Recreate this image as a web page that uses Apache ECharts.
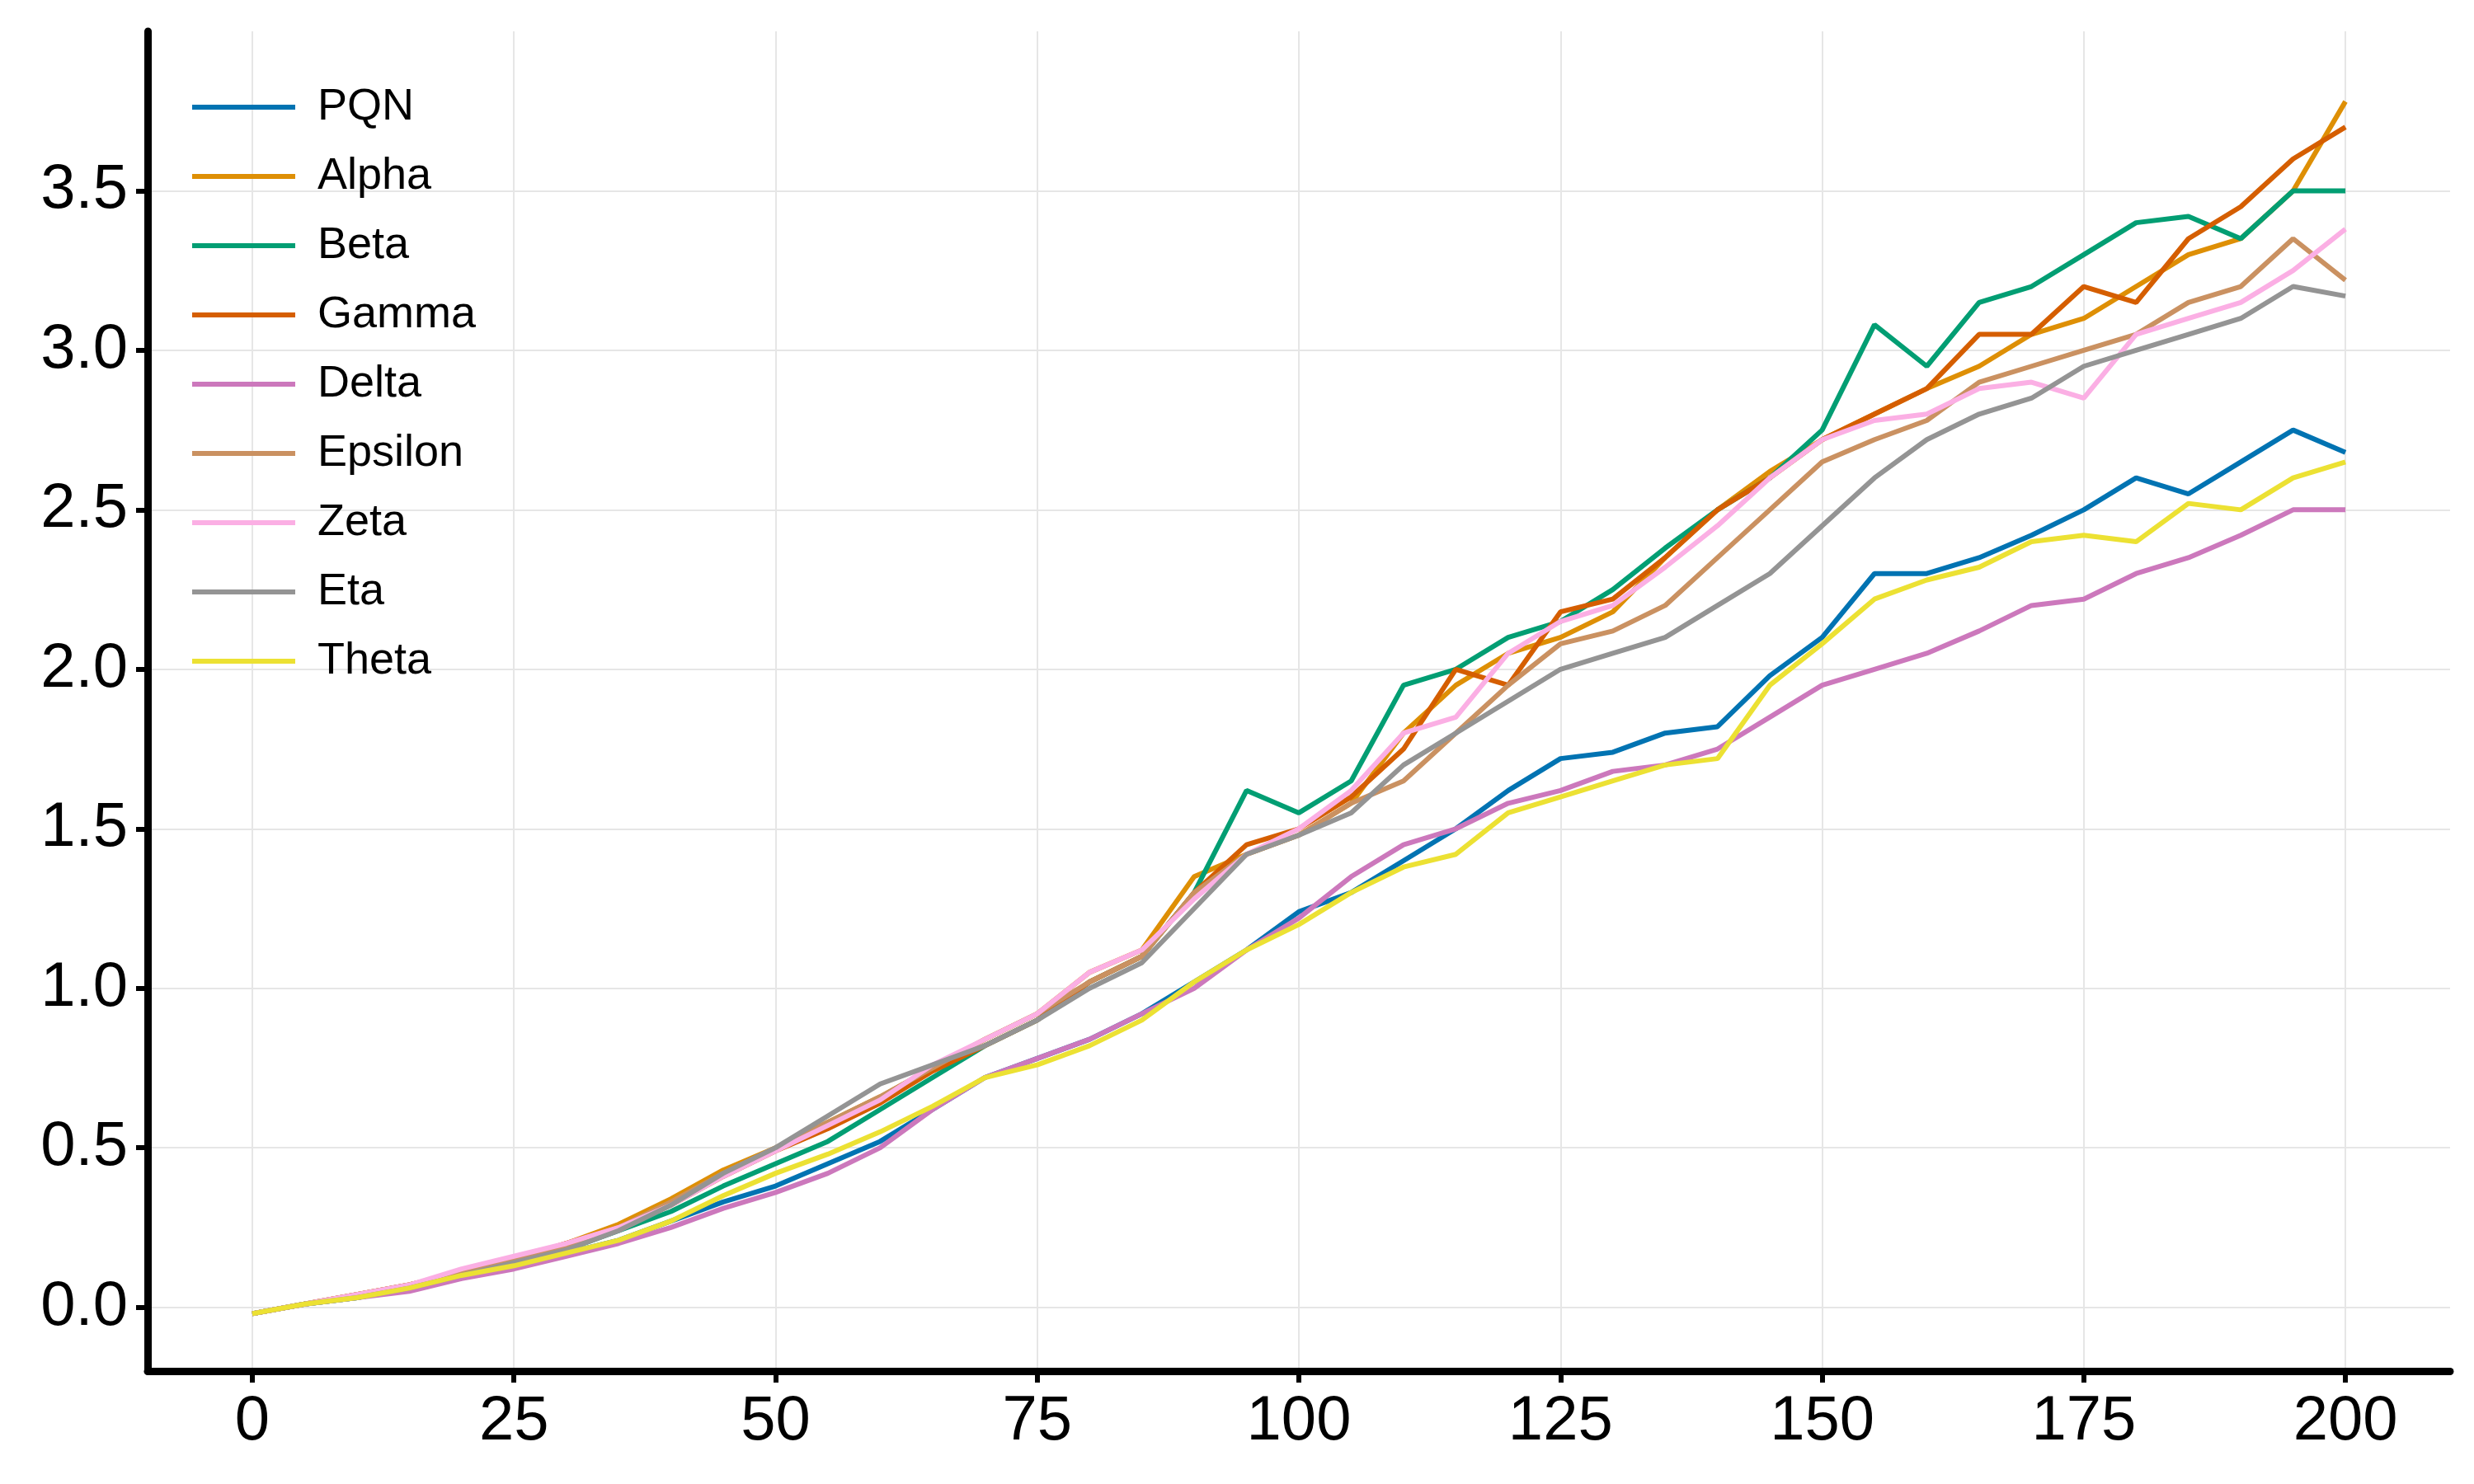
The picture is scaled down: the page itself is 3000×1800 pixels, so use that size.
<!DOCTYPE html><html><head><meta charset="utf-8">
<script src="https://cdn.jsdelivr.net/npm/echarts@6/dist/echarts.min.js"></script>
<style>html,body{margin:0;background:#fff}#c{width:3000px;height:1800px}</style></head><body><div id="c"></div>
<script>
const xs=[0,5,10,15,20,25,30,35,40,45,50,55,60,65,70,75,80,85,90,95,100,105,110,115,120,125,130,135,140,145,150,155,160,165,170,175,180,185,190,195,200];
const PQN  =[-0.02,0.01,0.03,0.06,0.1,0.13,0.17,0.21,0.27,0.33,0.38,0.45,0.52,0.62,0.72,0.78,0.84,0.92,1.02,1.12,1.24,1.3,1.4,1.5,1.62,1.72,1.74,1.8,1.82,1.98,2.1,2.3,2.3,2.35,2.42,2.5,2.6,2.55,2.65,2.75,2.68];
const Alpha=[-0.02,0.01,0.04,0.07,0.11,0.15,0.2,0.26,0.34,0.43,0.5,0.58,0.66,0.75,0.84,0.92,1.05,1.12,1.35,1.42,1.48,1.58,1.8,1.95,2.05,2.1,2.18,2.35,2.5,2.62,2.72,2.8,2.88,2.95,3.05,3.1,3.2,3.3,3.35,3.5,3.78];
const Beta =[-0.02,0.01,0.03,0.06,0.1,0.14,0.18,0.24,0.3,0.38,0.45,0.52,0.62,0.72,0.82,0.9,1.02,1.1,1.3,1.62,1.55,1.65,1.95,2.0,2.1,2.15,2.25,2.38,2.5,2.6,2.75,3.08,2.95,3.15,3.2,3.3,3.4,3.42,3.35,3.5,3.5];
const Gamma=[-0.02,0.01,0.04,0.07,0.11,0.15,0.2,0.25,0.32,0.41,0.49,0.56,0.64,0.74,0.82,0.9,1.02,1.1,1.3,1.45,1.5,1.6,1.75,2.0,1.95,2.18,2.22,2.35,2.5,2.6,2.72,2.8,2.88,3.05,3.05,3.2,3.15,3.35,3.45,3.6,3.7];
const Delta=[-0.02,0.01,0.03,0.05,0.09,0.12,0.16,0.2,0.25,0.31,0.36,0.42,0.5,0.62,0.72,0.78,0.84,0.92,1.0,1.12,1.22,1.35,1.45,1.5,1.58,1.62,1.68,1.7,1.75,1.85,1.95,2.0,2.05,2.12,2.2,2.22,2.3,2.35,2.42,2.5,2.5];
const Epsilon=[-0.02,0.01,0.04,0.07,0.11,0.15,0.19,0.25,0.33,0.42,0.5,0.58,0.66,0.75,0.84,0.92,1.02,1.1,1.3,1.42,1.48,1.58,1.65,1.8,1.95,2.08,2.12,2.2,2.35,2.5,2.65,2.72,2.78,2.9,2.95,3.0,3.05,3.15,3.2,3.35,3.22];
const Zeta =[-0.02,0.01,0.04,0.07,0.12,0.16,0.2,0.25,0.32,0.41,0.49,0.57,0.65,0.76,0.84,0.92,1.05,1.12,1.28,1.42,1.5,1.62,1.8,1.85,2.05,2.15,2.2,2.32,2.45,2.6,2.72,2.78,2.8,2.88,2.9,2.85,3.05,3.1,3.15,3.25,3.38];
const Eta  =[-0.02,0.01,0.03,0.06,0.1,0.14,0.18,0.24,0.32,0.42,0.5,0.6,0.7,0.76,0.82,0.9,1.0,1.08,1.25,1.42,1.48,1.55,1.7,1.8,1.9,2.0,2.05,2.1,2.2,2.3,2.45,2.6,2.72,2.8,2.85,2.95,3.0,3.05,3.1,3.2,3.17];
const Theta=[-0.02,0.01,0.03,0.06,0.1,0.13,0.17,0.21,0.27,0.35,0.42,0.48,0.55,0.63,0.72,0.76,0.82,0.9,1.02,1.12,1.2,1.3,1.38,1.42,1.55,1.6,1.65,1.7,1.72,1.95,2.08,2.22,2.28,2.32,2.4,2.42,2.4,2.52,2.5,2.6,2.65];
const names=['PQN','Alpha','Beta','Gamma','Delta','Epsilon','Zeta','Eta','Theta'];
const data=[PQN,Alpha,Beta,Gamma,Delta,Epsilon,Zeta,Eta,Theta];
const colors=['#0173b2','#de8f05','#029e73','#d55e00','#cc78bc','#ca9161','#fbafe4','#949494','#ece133'];
const xt=[0,25,50,75,100,125,150,175,200], yt=[0,0.5,1,1.5,2,2.5,3,3.5];
const ch=echarts.init(document.getElementById('c'));
function ax(ticks,fmt){return {
 axisLine:{onZero:false,lineStyle:{color:'#000',width:9}},
 axisTick:{length:14,customValues:ticks,lineStyle:{width:6,color:'#000'}},
 axisLabel:{color:'#000',fontSize:76,fontFamily:'Liberation Sans',customValues:ticks,margin:24,formatter:fmt},
 splitLine:{show:true,lineStyle:{color:'#e6e6e6',width:2}}};}
ch.setOption({animation:false,color:colors,
 grid:{left:179,right:29,top:38,bottom:137,containLabel:false},
 legend:{orient:'vertical',left:228,top:98,itemWidth:125,itemHeight:6,itemGap:30,icon:'rect',
  textStyle:{fontSize:54,fontFamily:'Liberation Sans',color:'#000',padding:[0,0,0,22]},data:names},
 xAxis:Object.assign({type:'value',min:-10,max:210},ax(xt,v=>String(v))),
 yAxis:Object.assign({type:'value',min:-0.2,max:4.0},ax(yt,v=>v.toFixed(1))),
 series:names.map((n,i)=>({name:n,type:'line',showSymbol:false,data:xs.map((x,j)=>[x,data[i][j]]),lineStyle:{width:6}}))
});
</script></body></html>
